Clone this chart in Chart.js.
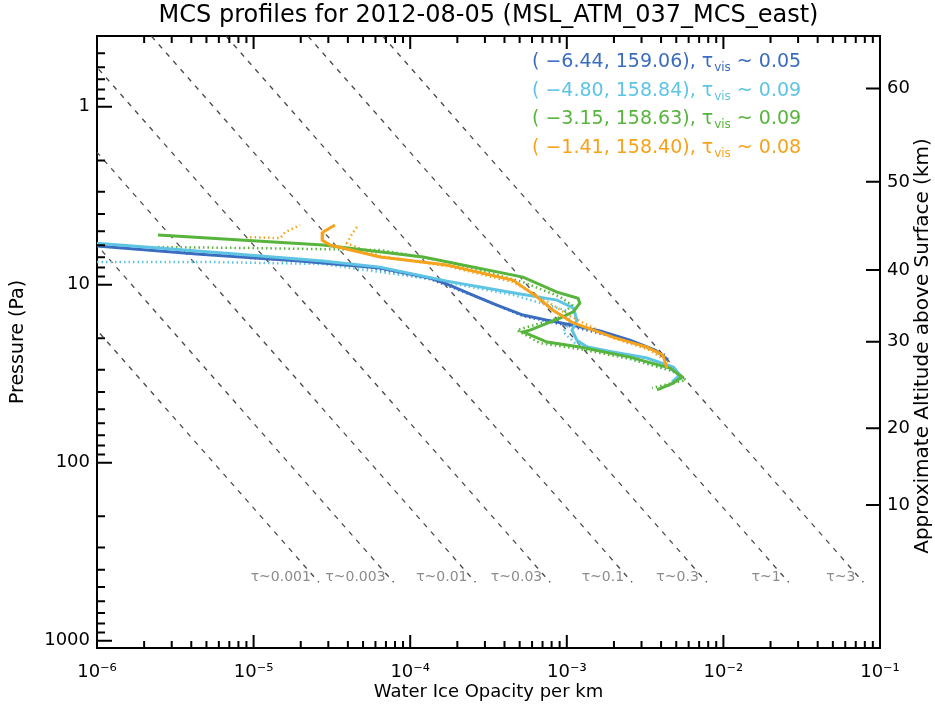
<!DOCTYPE html>
<html>
<head>
<meta charset="utf-8">
<title>MCS profiles</title>
<script src="https://cdn.jsdelivr.net/npm/chart.js@4.4.1/dist/chart.umd.min.js"></script>
<style>
  html, body { margin: 0; padding: 0; background: #fff; }
</style>
</head>
<body>
<canvas id="chart" width="935" height="705"></canvas>
<script>
// ---- values ----
const titleText = 'MCS profiles for 2012-08-05 (MSL_ATM_037_MCS_east)';

const profileLat = [-6.44, -4.80, -3.15, -1.41];
const profileLon = [159.06, 158.84, 158.63, 158.40];
const profileTau = [0.05, 0.09, 0.09, 0.08];
const profileColors = ['#3a6cc0', '#5ec4e4', '#57b43c', '#f6a21d'];

// pressure (Pa) / water ice opacity (per km), solid = retrieval, dotted = second profile
const blueP = [6.06, 6.73, 7.36, 8.06, 9.17, 9.93, 11.7, 13.0, 14.8, 15.8, 16.8, 18.2, 20.5, 23.3, 26.5];
const blueK = [1.0e-6, 4.55e-6, 1.98e-5, 6.41e-5, 1.34e-4, 1.72e-4, 2.67e-4, 3.58e-4, 5.25e-4, 7.48e-4, 1.05e-3, 1.63e-3, 2.53e-3, 3.66e-3, 4.43e-3];
const blueDotP = [7.08, 7.65, 9.29, 11.9, 15.0, 17.1, 20.7, 24.8];
const blueDotK = [9.5e-6, 4.13e-5, 1.34e-4, 2.79e-4, 5.25e-4, 1.05e-3, 2.53e-3, 4.24e-3];

const cyanP = [5.85, 6.64, 7.36, 7.96, 9.54, 11.1, 12.2, 13.5, 15.8, 18.0, 20.5, 22.4, 23.9, 25.8, 29.0, 32.2, 35.2];
const cyanK = [1.0e-6, 6.38e-6, 2.77e-5, 6.41e-5, 1.72e-4, 4.53e-4, 8.66e-4, 1.10e-3, 1.16e-3, 1.08e-3, 1.16e-3, 1.35e-3, 1.97e-3, 3.25e-3, 4.77e-3, 5.28e-3, 4.70e-3];
const cyanDotP = [7.46, 7.46, 7.65, 9.17, 11.4, 13.9, 16.2, 18.4, 21.3, 24.5, 30.1, 33.4, 37.1];
const cyanDotK = [1.0e-6, 5.83e-6, 2.77e-5, 1.21e-4, 4.53e-4, 9.75e-4, 1.05e-3, 9.46e-4, 1.13e-3, 1.97e-3, 4.56e-3, 5.52e-3, 4.43e-3];

const greenP = [5.26, 5.98, 6.99, 9.06, 11.0, 11.9, 12.7, 14.2, 15.4, 18.0, 18.4, 21.0, 22.4, 25.5, 29.4, 33.0, 35.7, 39.0];
const greenK = [2.45e-6, 2.77e-5, 1.21e-4, 5.25e-4, 8.66e-4, 1.18e-3, 1.21e-3, 1.10e-3, 9.05e-4, 5.82e-4, 5.25e-4, 7.48e-4, 1.21e-3, 2.53e-3, 4.56e-3, 5.44e-3, 4.77e-3, 3.77e-3];
const greenDotP = [6.14, 6.22, 6.38, 7.46, 9.66, 11.7, 13.0, 15.2, 18.0, 21.3, 23.0, 26.1, 30.9, 34.3, 38.0];
const greenDotK = [2.45e-6, 9.5e-6, 6.41e-5, 1.79e-4, 5.25e-4, 9.05e-4, 1.08e-3, 9.05e-4, 4.81e-4, 6.74e-4, 1.21e-3, 2.53e-3, 4.91e-3, 5.77e-3, 3.50e-3];

const orangeP = [4.62, 5.06, 5.61, 5.98, 6.99, 7.75, 9.42, 11.7, 13.9, 16.4, 19.7, 22.4, 24.8, 29.4];
const orangeK = [3.31e-5, 2.77e-5, 2.74e-5, 3.08e-5, 6.41e-5, 1.72e-4, 4.53e-4, 6.45e-4, 8.17e-4, 1.10e-3, 1.97e-3, 3.25e-3, 4.11e-3, 4.36e-3];
const orangeDotP = [5.40, 5.47, 5.06, 4.62, null, 4.74, 5.19, 5.85, 6.90, 7.85, 9.66, 12.2, 15.0, 19.9, 23.3, 27.2];
const orangeDotK = [9.5e-6, 1.48e-5, 1.59e-5, 1.98e-5, null, 4.57e-5, 4.24e-5, 3.94e-5, 6.41e-5, 1.72e-4, 4.53e-4, 7.27e-4, 1.05e-3, 1.97e-3, 3.40e-3, 4.43e-3];

// reference lines of constant column opacity: k = tau * p / tauLineScale
const tauValues = [0.001, 0.003, 0.01, 0.03, 0.1, 0.3, 1, 3];
const tauLabels = ['τ~0.001', 'τ~0.003', 'τ~0.01', 'τ~0.03', 'τ~0.1', 'τ~0.3', 'τ~1', 'τ~3'];
const tauLineScale = 18000;
const tauLineTopP = 0.1;
const tauLineBottomP = 470;

// right axis: approximate altitude (km) at pressure (Pa)
const altitudeKm = [10, 20, 30, 40, 50, 60];
const altitudePa = [173, 64.1, 20.9, 8.27, 2.64, 0.79];

const xMin = 1e-6, xMax = 1e-1;
const pMin = 0.4, pMax = 1100;

const fontFamily = '"DejaVu Sans", "Liberation Sans", sans-serif';

function points(ps, ks) {
    return ps.map((p, i) => ({ x: ks[i] === null ? NaN : ks[i], y: p === null ? NaN : p }));
}

function logTicks(lo, hi) {
    const out = [];
    for (let e = Math.floor(Math.log10(lo)); e <= Math.ceil(Math.log10(hi)); e++) {
        for (let m = 1; m <= 9; m++) {
            const v = m * Math.pow(10, e);
            if (v >= lo * 0.999 && v <= hi * 1.001) out.push({ value: v, major: m === 1 });
        }
    }
    return out;
}

const supMap = { '-': '⁻', '0': '⁰', '1': '¹', '2': '²', '3': '³', '4': '⁴', '5': '⁵', '6': '⁶', '7': '⁷', '8': '⁸', '9': '⁹' };
const sup = s => String(s).split('').map(c => supMap[c]).join('');

const profile = (label, ps, ks, color, dotted, order) => ({
    label: label,
    data: points(ps, ks),
    showLine: true,
    borderColor: color,
    backgroundColor: color,
    borderWidth: dotted ? 2.5 : 3,
    borderDash: dotted ? [1.5, 3] : [],
    pointRadius: 0,
    order: order
});

const datasets = [];
tauValues.forEach((tau, i) => {
    datasets.push({
        label: tauLabels[i],
        data: [
            { x: tau * tauLineTopP / tauLineScale, y: tauLineTopP },
            { x: tau * tauLineBottomP / tauLineScale, y: tauLineBottomP }
        ],
        showLine: true,
        borderColor: '#4a4a4a',
        borderWidth: 1.3,
        borderDash: [5, 6],
        pointRadius: 0,
        order: 20
    });
});
datasets.push(profile('blue dotted', blueDotP, blueDotK, profileColors[0], true, 13));
datasets.push(profile('cyan dotted', cyanDotP, cyanDotK, profileColors[1], true, 12));
datasets.push(profile('green dotted', greenDotP, greenDotK, profileColors[2], true, 11));
datasets.push(profile('orange dotted', orangeDotP, orangeDotK, profileColors[3], true, 10));
datasets.push(profile('blue', blueP, blueK, profileColors[0], false, 3));
datasets.push(profile('cyan', cyanP, cyanK, profileColors[1], false, 2));
datasets.push(profile('green', greenP, greenK, profileColors[2], false, 1));
datasets.push(profile('orange', orangeP, orangeK, profileColors[3], false, 0));

// tick marks drawn inward, like the original plot
const insideTicks = {
    id: 'insideTicks',
    afterDraw(chart) {
        const { ctx, chartArea: a, scales } = chart;
        ctx.save();
        ctx.strokeStyle = '#000';
        ctx.lineWidth = 2;
        ctx.beginPath();
        scales.x.ticks.forEach(t => {
            const px = scales.x.getPixelForValue(t.value);
            const len = t.major ? 13 : 7;
            ctx.moveTo(px, a.bottom); ctx.lineTo(px, a.bottom - len);
            ctx.moveTo(px, a.top); ctx.lineTo(px, a.top + len);
        });
        scales.y.ticks.forEach(t => {
            const py = scales.y.getPixelForValue(t.value);
            const len = t.major ? 15 : 8;
            ctx.moveTo(a.left, py); ctx.lineTo(a.left + len, py);
        });
        scales.y2.ticks.forEach(t => {
            const py = scales.y2.getPixelForValue(t.value);
            ctx.moveTo(a.right, py); ctx.lineTo(a.right - 14, py);
        });
        ctx.stroke();
        ctx.restore();
    }
};

const annotations = {
    id: 'annotations',
    afterDraw(chart) {
        const { ctx, chartArea: a, scales } = chart;
        ctx.save();

        // tau labels at the lower end of each dashed line
        ctx.font = '14px ' + fontFamily;
        ctx.fillStyle = '#8c8c8c';
        ctx.textAlign = 'right';
        ctx.textBaseline = 'middle';
        tauValues.forEach((tau, i) => {
            const px = scales.x.getPixelForValue(tau * tauLineBottomP / tauLineScale);
            const py = scales.y.getPixelForValue(tauLineBottomP);
            ctx.fillText(tauLabels[i], px - 8, py - 5);
        });

        // profile locations and column opacity
        ctx.textAlign = 'left';
        profileLat.forEach((lat, i) => {
            const y = a.top + 26 + i * 28.6;
            let x = a.right - 348;
            ctx.fillStyle = profileColors[i];
            ctx.font = '19px ' + fontFamily;
            const head = '( ' + lat.toFixed(2).replace('-', '−') + ', ' + profileLon[i].toFixed(2) + '), ';
            ctx.fillText(head, x, y);
            x += ctx.measureText(head).width;
            ctx.fillText('τ', x, y);
            x += ctx.measureText('τ').width + 1;
            ctx.font = '12px ' + fontFamily;
            ctx.fillText('vis', x, y + 6);
            x += ctx.measureText('vis').width + 6;
            ctx.font = '19px ' + fontFamily;
            ctx.fillText('~ ' + profileTau[i].toFixed(2), x, y);
        });

        // right axis title, reading upward
        ctx.fillStyle = '#000';
        ctx.font = '20px ' + fontFamily;
        ctx.textAlign = 'center';
        ctx.translate(923, (a.top + a.bottom) / 2 + 4);
        ctx.rotate(-Math.PI / 2);
        ctx.fillText('Approximate Altitude above Surface (km)', 0, 0);
        ctx.restore();
    }
};

const tickFont = { family: fontFamily, size: 18 };

new Chart(document.getElementById('chart'), {
    type: 'scatter',
    data: { datasets: datasets },
    options: {
        responsive: false,
        animation: false,
        devicePixelRatio: 1,
        layout: { padding: 0 },
        plugins: {
            legend: { display: false },
            tooltip: { enabled: false },
            title: {
                display: true,
                fullSize: false,
                text: titleText,
                color: '#000',
                font: { family: fontFamily, size: 24, weight: 'normal' },
                padding: { top: 1, bottom: 6.2 }
            }
        },
        scales: {
            x: {
                type: 'logarithmic',
                position: 'bottom',
                min: xMin,
                max: xMax,
                bounds: 'data',
                grid: { display: false, drawTicks: false },
                border: { display: true, color: '#000', width: 2 },
                afterBuildTicks: s => { s.ticks = logTicks(xMin, xMax); },
                afterFit: s => { s.height = 57; },
                ticks: {
                    autoSkip: false,
                    maxRotation: 0,
                    padding: 14,
                    color: '#000',
                    font: tickFont,
                    callback: (v, i, ticks) => ticks[i].major ? '10' + sup(Math.round(Math.log10(v))) : ''
                },
                title: {
                    display: true,
                    text: 'Water Ice Opacity per km',
                    color: '#000',
                    font: { family: fontFamily, size: 18 },
                    padding: { top: 0, bottom: 2 }
                }
            },
            xTop: {
                type: 'logarithmic',
                position: 'top',
                min: xMin,
                max: xMax,
                bounds: 'data',
                grid: { display: false, drawTicks: false },
                border: { display: true, color: '#000', width: 2 },
                ticks: { display: false },
                afterFit: s => { s.height = 0; }
            },
            y: {
                type: 'logarithmic',
                position: 'left',
                reverse: true,
                min: pMin,
                max: pMax,
                bounds: 'data',
                grid: { display: false, drawTicks: false },
                border: { display: true, color: '#000', width: 2 },
                afterBuildTicks: s => { s.ticks = logTicks(pMin, pMax); },
                afterFit: s => { s.width = 97; },
                ticks: {
                    autoSkip: false,
                    padding: 7,
                    color: '#000',
                    font: tickFont,
                    callback: (v, i, ticks) => ticks[i].major ? String(Math.round(v)) : ''
                },
                title: {
                    display: true,
                    text: 'Pressure (Pa)',
                    color: '#000',
                    font: { family: fontFamily, size: 19 },
                    padding: { top: 7 }
                }
            },
            y2: {
                type: 'logarithmic',
                position: 'right',
                reverse: true,
                min: pMin,
                max: pMax,
                bounds: 'data',
                grid: { display: false, drawTicks: false },
                border: { display: true, color: '#000', width: 2 },
                afterBuildTicks: s => { s.ticks = altitudePa.map(v => ({ value: v, major: true })); },
                afterFit: s => { s.width = 55; },
                ticks: {
                    autoSkip: false,
                    padding: 7,
                    color: '#000',
                    font: tickFont,
                    callback: (v, i) => String(altitudeKm[i])
                }
            }
        }
    },
    plugins: [insideTicks, annotations]
});
</script>
</body>
</html>
